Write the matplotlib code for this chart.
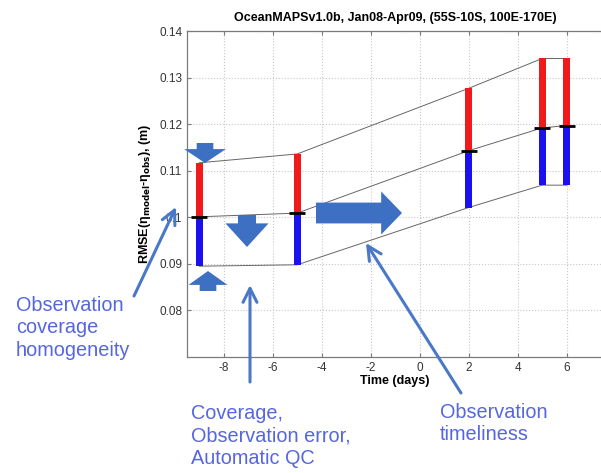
import matplotlib
matplotlib.use("Agg")
import matplotlib.pyplot as plt

plt.rcParams['font.family'] = ['Liberation Sans', 'DejaVu Sans']
plt.rcParams['axes.unicode_minus'] = False

days = [-9, -5, 2, 5, 6]
rmse_mid = [0.1001, 0.1009, 0.1143, 0.1192, 0.1197]
rmse_upper = [0.1117, 0.1136, 0.1277, 0.1341, 0.1341]
rmse_lower = [0.0895, 0.0898, 0.1021, 0.1069, 0.1069]
xticks = [-8, -6, -4, -2, 0, 2, 4, 6]
yticks = [0.08, 0.09, 0.10, 0.11, 0.12, 0.13, 0.14]
ytick_labels = ['0.08', '0.09', '0.1', '0.11', '0.12', '0.13', '0.14']

W, H = 601, 473
fig = plt.figure(figsize=(W / 100, H / 100), dpi=100)
ax = fig.add_axes([187 / W, (H - 357) / H, 416.5 / W, 326 / H])
ax.set_xlim(-9.5, 7.5)
ax.set_ylim(0.07, 0.14)

ax.grid(True, linestyle=':', color='#c8c8c8', linewidth=0.8)
ax.set_axisbelow(True)
for s in ax.spines.values():
    s.set_color('#7a7a7a')
    s.set_linewidth(0.9)
ax.set_xticks(xticks)
ax.set_yticks(yticks)
ax.set_yticklabels(ytick_labels)
ax.tick_params(direction='in', length=3, color='#7a7a7a', labelsize=8.5,
               labelcolor='#333333', top=True, right=False)

# connecting lines
for series in (rmse_upper, rmse_mid, rmse_lower):
    ax.plot(days, series, color='#666666', linewidth=0.7, zorder=2)

# bars
bw = 0.3
for d, lo, mid, hi in zip(days, rmse_lower, rmse_mid, rmse_upper):
    ax.bar(d, hi - mid, bottom=mid, width=bw, color='#f01a1a', zorder=3, linewidth=0)
    ax.bar(d, mid - lo, bottom=lo, width=bw, color='#1a10f0', zorder=3, linewidth=0)
ax.plot(days, rmse_mid, linestyle='none', marker='_', markersize=12,
        markeredgewidth=2, color='black', zorder=4)

ax.set_title('OceanMAPSv1.0b, Jan08-Apr09, (55S-10S, 100E-170E)',
             fontsize=9, fontweight='bold', pad=7)
ax.set_xlabel('Time (days)', fontsize=9, fontweight='bold', labelpad=1)
ax.set_ylabel(r'RMSE(η$_{\mathbf{model}}$-η$_{\mathbf{obs}}$), (m)',
              fontsize=9, fontweight='bold', labelpad=4)

# block arrows (figure pixel coordinates, y from top)
blk = '#3d6fc2'
def block(tail, tip, tw, hw, hl):
    fig.patches.append(matplotlib.patches.FancyArrowPatch(
        (tail[0], H - tail[1]), (tip[0], H - tip[1]), transform=None,
        arrowstyle=f'simple,tail_width={tw},head_width={hw},head_length={hl}',
        mutation_scale=1, shrinkA=0, shrinkB=0,
        facecolor=blk, edgecolor='none', zorder=6))

block((205, 143), (205, 163), 12, 30, 10)
block((208, 291), (208, 271), 12, 28, 10)
block((247, 215), (247, 247), 13, 31, 17)
block((316, 213), (402, 213), 15, 31, 15)

# thin arrows
thin = '#4a78c8'
def thin_arrow(tail, tip):
    fig.patches.append(matplotlib.patches.FancyArrowPatch(
        (tail[0], H - tail[1]), (tip[0], H - tip[1]), transform=None,
        arrowstyle='->,head_length=10,head_width=5', mutation_scale=1,
        shrinkA=0, shrinkB=0, color=thin, linewidth=2.2, zorder=6))

thin_arrow((134, 296), (176, 207))
thin_arrow((250, 382), (250, 285))
thin_arrow((461, 393), (366, 243))

tc = '#5566e0'
kw = dict(color=tc, fontsize=14.3, va='top', ha='left', linespacing=1.22)
fig.text(16 / W, 1 - 296 / H, 'Observation\ncoverage\nhomogeneity', **kw)
fig.text(191 / W, 1 - 404 / H, 'Coverage,\nObservation error,\nAutomatic QC', **kw)
fig.text(440 / W, 1 - 403 / H, 'Observation\ntimeliness', **kw)

fig.savefig('out.png', dpi=100)
